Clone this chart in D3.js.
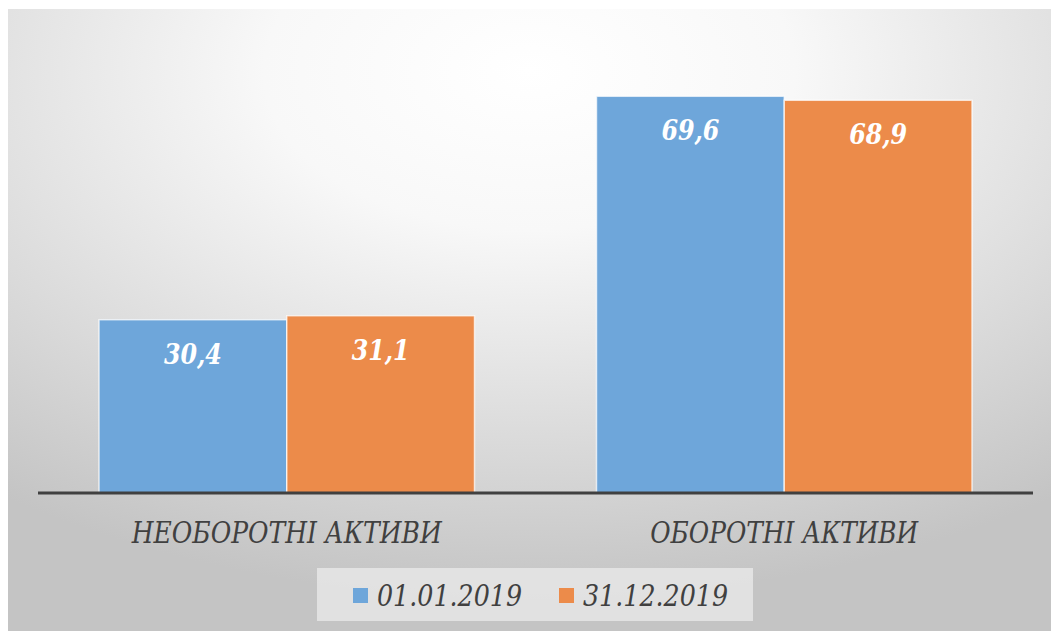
<!DOCTYPE html>
<html>
<head>
<meta charset="utf-8">
<script src="https://cdn.jsdelivr.net/npm/d3@7"></script>
<style>
  body { margin: 0; background: #fff; }
</style>
</head>
<body>
<script>
// data
const categories = ["НЕОБОРОТНІ АКТИВИ", "ОБОРОТНІ АКТИВИ"];
const seriesNames = ["01.01.2019", "31.12.2019"];
const values2019start = [30.4, 69.6];
const values2019end = [31.1, 68.9];
const labels2019start = ["30,4", "69,6"];
const labels2019end = ["31,1", "68,9"];

const colors = ["#6ea6da", "#ec8b4a"];
const serif = "'DejaVu Serif Condensed', 'DejaVu Serif', serif";

const W = 1055, H = 631;

const svg = d3.select("body").append("svg")
    .attr("width", W)
    .attr("height", H);

// background gradient
const defs = svg.append("defs");
const grad = defs.append("radialGradient")
    .attr("id", "bg")
    .attr("cx", "0.5").attr("cy", "0.1")
    .attr("r", "0.85")
    .attr("fx", "0.5").attr("fy", "0.1");
grad.append("stop").attr("offset", "0").attr("stop-color", "#ffffff");
grad.append("stop").attr("offset", "0.3").attr("stop-color", "#f8f8f8");
grad.append("stop").attr("offset", "0.65").attr("stop-color", "#dedede");
grad.append("stop").attr("offset", "1").attr("stop-color", "#c4c4c4");

svg.append("rect")
    .attr("x", 8).attr("y", 9)
    .attr("width", 1043).attr("height", H - 9)
    .attr("fill", "url(#bg)");

// scales
const x = d3.scaleBand().domain(categories).range([38, 1033]).padding(0);
const xInner = d3.scaleBand().domain(seriesNames).range([61, 436.5]).padding(0);
const y = d3.scaleLinear().domain([0, 80]).range([493, 37]);

const rows = categories.map((c, i) => ({
    cat: c,
    items: [
        { s: seriesNames[0], v: values2019start[i], label: labels2019start[i], color: colors[0] },
        { s: seriesNames[1], v: values2019end[i], label: labels2019end[i], color: colors[1] }
    ]
}));

const groups = svg.append("g").selectAll("g")
    .data(rows)
    .join("g")
    .attr("transform", d => "translate(" + x(d.cat) + ",0)");

groups.selectAll("rect")
    .data(d => d.items)
    .join("rect")
    .attr("x", d => xInner(d.s))
    .attr("y", d => y(d.v))
    .attr("width", xInner.bandwidth())
    .attr("height", d => y(0) - y(d.v))
    .attr("fill", d => d.color)
    .attr("stroke", "rgba(255,255,255,0.7)")
    .attr("stroke-width", 1.5);

groups.selectAll("text.val")
    .data(d => d.items)
    .join("text")
    .attr("class", "val")
    .attr("x", d => xInner(d.s) + xInner.bandwidth() / 2)
    .attr("y", d => y(d.v) + 44)
    .attr("text-anchor", "middle")
    .attr("font-family", serif)
    .attr("font-style", "italic")
    .attr("font-weight", "bold")
    .attr("font-size", 28)
    .attr("textLength", 58)
    .attr("lengthAdjust", "spacingAndGlyphs")
    .attr("fill", "#ffffff")
    .text(d => d.label);

// axis line
svg.append("line")
    .attr("x1", x.range()[0]).attr("x2", x.range()[1])
    .attr("y1", y(0)).attr("y2", y(0))
    .attr("stroke", "#404040")
    .attr("stroke-width", 3);

// category labels
const catWidths = [310, 268];
svg.append("g").selectAll("text")
    .data(categories)
    .join("text")
    .attr("x", d => x(d) + x.bandwidth() / 2)
    .attr("y", 543)
    .attr("text-anchor", "middle")
    .attr("font-family", serif)
    .attr("font-style", "italic")
    .attr("font-size", 29)
    .attr("textLength", (d, i) => catWidths[i])
    .attr("lengthAdjust", "spacingAndGlyphs")
    .attr("fill", "#404040")
    .text(d => d);

// legend
const legend = svg.append("g");
legend.append("rect")
    .attr("x", 317).attr("y", 568)
    .attr("width", 436).attr("height", 53)
    .attr("fill", "#e6e6e6")
    .attr("fill-opacity", 0.85);

const legendX = [353, 559];
const li = legend.selectAll("g")
    .data(seriesNames)
    .join("g")
    .attr("transform", (d, i) => "translate(" + legendX[i] + ",0)");

li.append("rect")
    .attr("x", 0).attr("y", 588)
    .attr("width", 15).attr("height", 15)
    .attr("fill", (d, i) => colors[i]);

li.append("text")
    .attr("x", 24).attr("y", 606)
    .attr("font-family", serif)
    .attr("font-style", "italic")
    .attr("font-size", 29)
    .attr("textLength", 145)
    .attr("lengthAdjust", "spacingAndGlyphs")
    .attr("fill", "#404040")
    .text(d => d);
</script>
</body>
</html>
